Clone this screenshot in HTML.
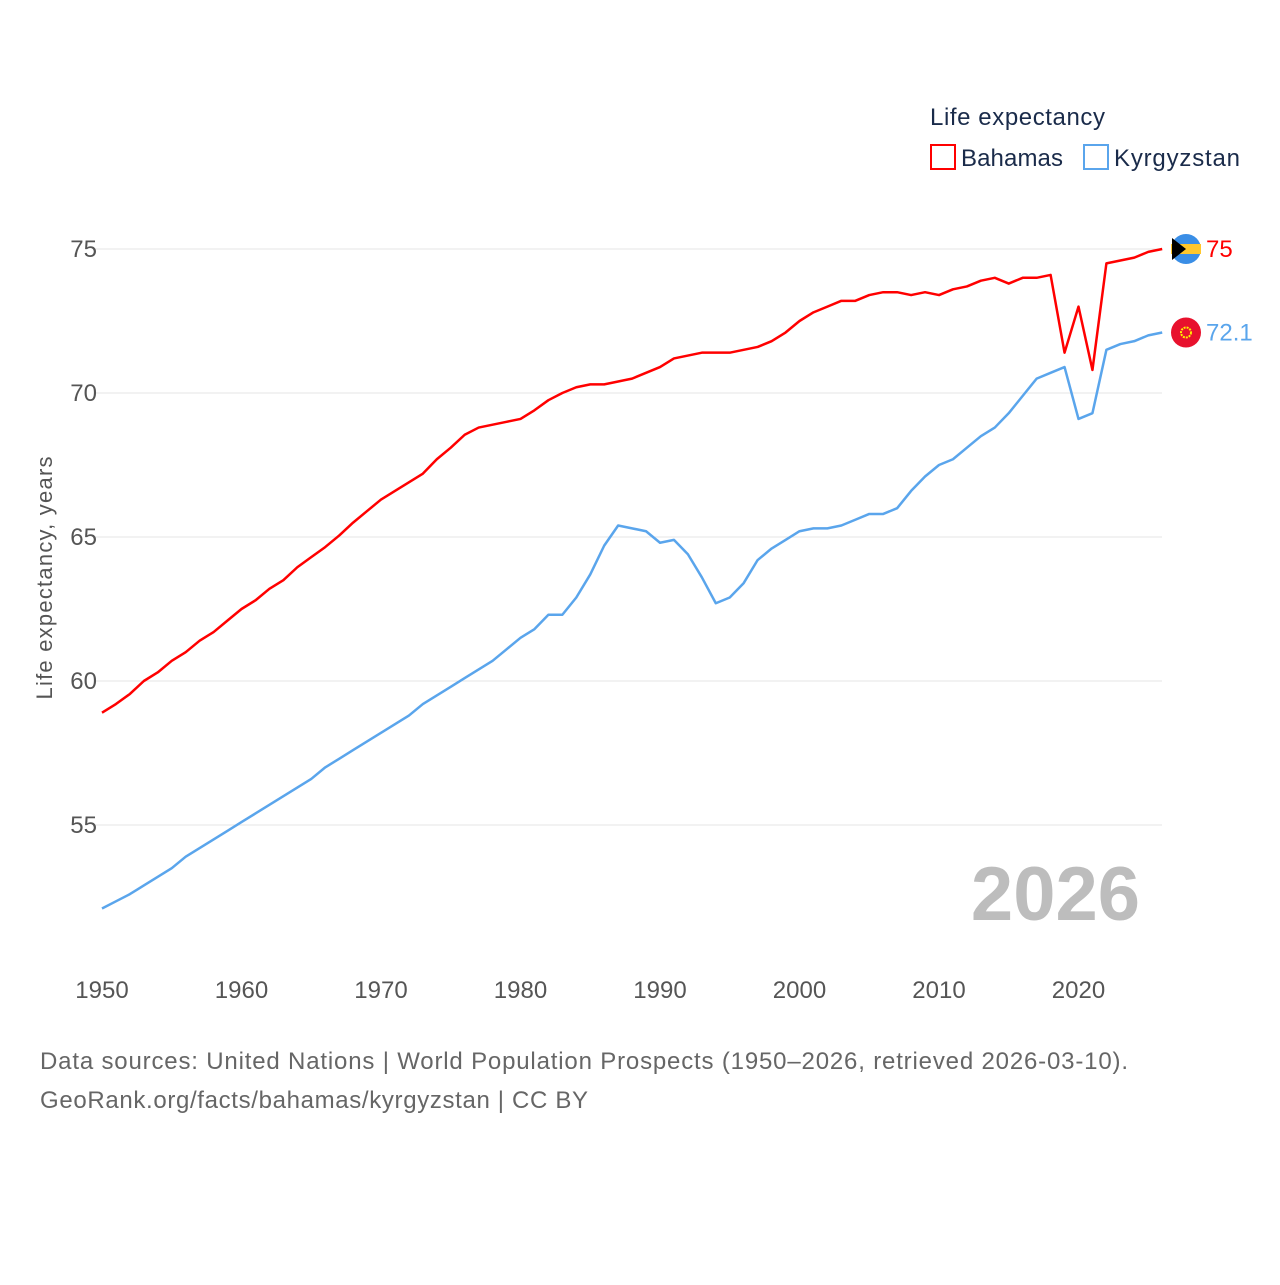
<!DOCTYPE html>
<html><head><meta charset="utf-8"><style>
body{margin:0;background:#fff;font-family:"Liberation Sans",sans-serif;}
svg text{font-family:"Liberation Sans",sans-serif;}
</style></head><body>
<svg id="chart" width="1280" height="1280" xmlns="http://www.w3.org/2000/svg">
<text x="930" y="125" font-size="24" fill="#1a2b4a" textLength="175">Life expectancy</text>
<g><rect x="931" y="145" width="24" height="24" fill="none" stroke="#f00" stroke-width="2"/><text x="961" y="166" font-size="24" fill="#1a2b4a" textLength="102">Bahamas</text></g>
<g><rect x="1084" y="145" width="24" height="24" fill="none" stroke="#5aa5ec" stroke-width="2"/><text x="1114" y="166" font-size="24" fill="#1a2b4a" textLength="126">Kyrgyzstan</text></g>
<g id="grid"></g>
<g id="series"></g>
<text x="-578" y="52" transform="rotate(-90)" text-anchor="middle" font-size="22" fill="#555" textLength="243">Life expectancy, years</text>
<text x="1140" y="920" text-anchor="end" font-size="76" font-weight="bold" fill="#bdbdbd">2026</text>
<text x="40" y="1069" font-size="24" fill="#666" textLength="1088">Data sources: United Nations | World Population Prospects (1950–2026, retrieved 2026-03-10).</text>
<text x="40" y="1108" font-size="24" fill="#666" textLength="548">GeoRank.org/facts/bahamas/kyrgyzstan | CC BY</text>
</svg>
<script>
const years=[];for(let y=1950;y<=2026;y++)years.push(y);
const bahamas=[58.9,59.2,59.55,60.0,60.3,60.7,61.0,61.4,61.7,62.1,62.5,62.8,63.2,63.5,63.95,64.3,64.65,65.05,65.5,65.9,66.3,66.6,66.9,67.2,67.7,68.1,68.55,68.8,68.9,69.0,69.1,69.4,69.75,70.0,70.2,70.3,70.3,70.4,70.5,70.7,70.9,71.2,71.3,71.4,71.4,71.4,71.5,71.6,71.8,72.1,72.5,72.8,73.0,73.2,73.2,73.4,73.5,73.5,73.4,73.5,73.4,73.6,73.7,73.9,74.0,73.8,74.0,74.0,74.1,71.4,73.0,70.8,74.5,74.6,74.7,74.9,75.0];
const kyrgyzstan=[52.1,52.35,52.6,52.9,53.2,53.5,53.9,54.2,54.5,54.8,55.1,55.4,55.7,56.0,56.3,56.6,57.0,57.3,57.6,57.9,58.2,58.5,58.8,59.2,59.5,59.8,60.1,60.4,60.7,61.1,61.5,61.8,62.3,62.3,62.9,63.7,64.7,65.4,65.3,65.2,64.8,64.9,64.4,63.6,62.7,62.9,63.4,64.2,64.6,64.9,65.2,65.3,65.3,65.4,65.6,65.8,65.8,66.0,66.6,67.1,67.5,67.7,68.1,68.5,68.8,69.3,69.9,70.5,70.7,70.9,69.1,69.3,71.5,71.7,71.8,72.0,72.1];
const yTicks=[55,60,65,70,75];
const xTicks=[1950,1960,1970,1980,1990,2000,2010,2020];
const x=v=>102+(v-1950)*13.95;
const y=v=>249+(75-v)*28.8;
const NS="http://www.w3.org/2000/svg";
const grid=document.getElementById('grid'),ser=document.getElementById('series');
function mk(t,a,p){const e=document.createElementNS(NS,t);for(const k in a)e.setAttribute(k,a[k]);p.appendChild(e);return e;}
yTicks.forEach(t=>{
 const l=mk('line',{x1:95,x2:1162,y1:y(t),y2:y(t),stroke:'#e6e6e6','stroke-width':1},grid);
 
 
 const tx=mk('text',{x:97,y:y(t)+8,'text-anchor':'end','font-size':24,fill:'#555'},grid);tx.textContent=t;
 
 
});
xTicks.forEach(t=>{
 const tx=mk('text',{x:x(t),y:998,'text-anchor':'middle','font-size':24,fill:'#555'},grid);tx.textContent=t;
 
 
});
function line(data,color,name){
 const p=mk('polyline',{points:data.map((v,i)=>x(years[i])+','+y(v)).join(' '),fill:'none',stroke:color,'stroke-width':2.5,'stroke-linejoin':'round'},ser);
 
 
}
line(kyrgyzstan,'#5aa5ec','kyrgyzstan-line');
line(bahamas,'#f00','bahamas-line');
const lb=bahamas[bahamas.length-1],lk=kyrgyzstan[kyrgyzstan.length-1];
const fb=mk('g',{},ser);


const cb=y(lb);
mk('circle',{cx:1186,cy:cb,r:15,fill:'#3a8ee6'},fb);
mk('rect',{x:1171,y:cb-5,width:30,height:10,fill:'#ffc72c'},fb);
mk('path',{d:`M1172 ${cb-11} L1186 ${cb} L1172 ${cb+11} Z`,fill:'#000'},fb);
const tb=mk('text',{x:1206,y:cb+8,'font-size':24,fill:'#f00'},ser);tb.textContent=lb;


const fk=mk('g',{},ser);


const ck=y(lk);
mk('circle',{cx:1186,cy:ck,r:15,fill:'#e8112d'},fk);
mk('circle',{cx:1186,cy:ck,r:5,fill:'none',stroke:'#ffef00','stroke-width':2,'stroke-dasharray':'2 1'},fk);
const tk=mk('text',{x:1206,y:ck+8,'font-size':24,fill:'#5aa5ec'},ser);tk.textContent=lk;


</script>
</body></html>
